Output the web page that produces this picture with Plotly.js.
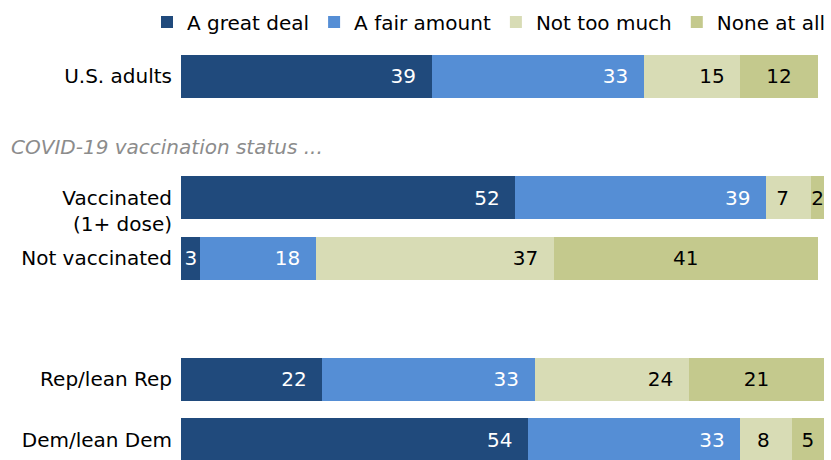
<!DOCTYPE html>
<html>
<head>
<meta charset="utf-8">
<script src="https://cdn.plot.ly/plotly-3.0.1.min.js"></script>
<style>
  html, body { margin: 0; padding: 0; background: #fff; }
  #chart { width: 831px; height: 460px; }
</style>
</head>
<body>
<div id="chart"></div>
<script>
// Categories (spacer rows are blank labels)
const categories = [
  "U.S. adults",
  " ",
  "\u00a0<br>Vaccinated<br>(1+ dose)",
  "Not vaccinated",
  "  ",
  "Rep/lean Rep",
  "Dem/lean Dem"
];
const seriesNames = ["A great deal", "A fair amount", "Not too much", "None at all"];
const greatDeal   = [39, null, 52, 3, null, 22, 54];
const fairAmount  = [33, null, 39, 18, null, 33, 33];
const notTooMuch  = [15, null, 7, 37, null, 24, 8];
const noneAtAll   = [12, null, 2, 41, null, 21, 5];
const sectionLabel = "COVID-19 vaccination status ...";

const colors = ["#204a7c", "#558ed5", "#d8dcb5", "#c4c98d"];
const textColors = ["#ffffff", "#ffffff", "#000000", "#000000"];
const FONT = "'DejaVu Sans', 'Liberation Sans', sans-serif";
const NB = "\u00a0";

function labelTemplate(v, endAnchored) {
  return v.map(d => {
    if (d == null) return "";
    if (!endAnchored) return "%{x}";
    if (d < 5) return "%{x}";
    return d < 10 ? "%{x}" + NB + NB + NB : "%{x}" + NB + NB;
  });
}

const values = [greatDeal, fairAmount, notTooMuch, noneAtAll];
const traces = values.map((v, i) => ({
  type: "bar",
  orientation: "h",
  name: seriesNames[i],
  y: categories,
  x: v,
  marker: { color: colors[i], line: { width: 0 } },
  texttemplate: labelTemplate(v, i < 3),
  textposition: "inside",
  insidetextanchor: i < 3 ? "end" : "middle",
  constraintext: "none",
  cliponaxis: false,
  textfont: { family: FONT, size: 20, color: textColors[i] },
  hoverinfo: "skip"
}));

const layout = {
  width: 831,
  height: 460,
  barmode: "stack",
  bargap: 0.29,
  margin: { l: 181, r: 7, t: 46, b: 0 },
  paper_bgcolor: "#ffffff",
  plot_bgcolor: "#ffffff",
  font: { family: FONT, size: 20, color: "#000" },
  showlegend: true,
  legend: {
    orientation: "h",
    x: -0.0436, xanchor: "left",
    y: 1.058, yanchor: "middle",
    font: { family: FONT, size: 20, color: "#000" },
    traceorder: "normal",
    bgcolor: "rgba(0,0,0,0)"
  },
  xaxis: {
    range: [0, 100],
    showgrid: false, zeroline: false, showticklabels: false, showline: false,
    fixedrange: true
  },
  yaxis: {
    type: "category",
    categoryorder: "array",
    categoryarray: categories,
    range: [6.33, -0.5],
    showgrid: false, zeroline: false, showline: false,
    ticks: "",
    ticklabelstandoff: 8,
    tickfont: { family: FONT, size: 20, color: "#000" },
    fixedrange: true
  },
  annotations: [{
    text: sectionLabel,
    xref: "paper", yref: "paper",
    x: -0.267, y: 0.756,
    xanchor: "left", yanchor: "middle",
    showarrow: false,
    font: { family: FONT, size: 20, color: "#8c8c8c", style: "italic" }
  }]
};

Plotly.newPlot("chart", traces, layout, { displayModeBar: false, staticPlot: true });
</script>
</body>
</html>
